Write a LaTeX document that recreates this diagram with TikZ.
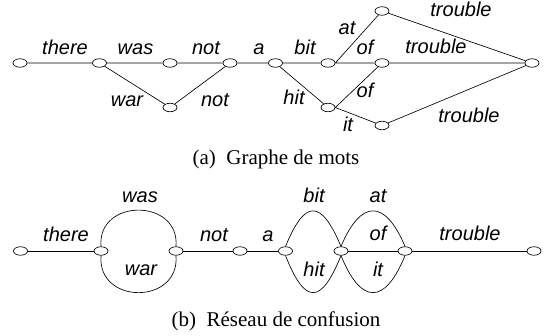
\documentclass[tikz,border=0pt]{standalone}
\usepackage{fontspec}
\setmainfont{Liberation Serif}
\setsansfont{Liberation Sans}
\usetikzlibrary{shapes.geometric}
\tikzset{
  st/.style={ellipse,draw,line width=0.65pt,minimum width=14pt,minimum height=8.5pt,inner sep=0pt},
  lb/.style={font=\sffamily\itshape\fontsize{20}{24}\selectfont,anchor=base,inner sep=0pt},
  captxt/.style={font=\rmfamily\fontsize{21}{25}\selectfont,anchor=base,inner sep=0pt},
  ln/.style={line width=0.65pt}
}
\begin{document}
\begin{tikzpicture}[x=1pt,y=-1pt]
\useasboundingbox (0,0) rectangle (546,336);
% ---------- (a) word graph
\node[st] (a0) at (20,63) {};
\node[st] (a1) at (99.5,63) {};
\node[st] (a2) at (170,63) {};
\node[st] (a3) at (230,63) {};
\node[st] (aw) at (170,107.5) {};
\node[st] (a4) at (275.5,63) {};
\node[st] (ab) at (328,63) {};
\node[st] (ah) at (328,107.5) {};
\node[st] (aat) at (382,11) {};
\node[st] (aof) at (382,63) {};
\node[st] (ait) at (382,125.5) {};
\node[st] (af) at (532,63) {};
\draw[ln] (a0) -- (a1) (a1) -- (a2) (a2) -- (a3) (a1) -- (aw) (aw) -- (a3) (a3) -- (a4)
  (a4) -- (ab) (a4) -- (ah) (ab.east) -- (aat) (ab) -- (aof) (ah.east) -- (aof) (ah.east) -- (ait)
  (aat) -- (af) (aof) -- (af) (ait) -- (af);
\node[lb] (l1) at (65,55) {there};
\node[lb] (l2) at (135.5,55) {was};
\node[lb] (l3) at (206,55) {not};
\node[lb] (l4) at (259,55) {a};
\node[lb] (l5) at (127,107) {war};
\node[lb] (l6) at (215,107) {not};
\node[lb] (l7) at (305,55) {bit};
\node[lb] (l8) at (347,35) {at};
\node[lb] (l9) at (365,55) {of};
\node[lb] (l10) at (461,17) {trouble};
\node[lb] (l11) at (436,54) {trouble};
\node[lb] (l12) at (294,105) {hit};
\node[lb] (l13) at (365,98) {of};
\node[lb] (l14) at (348,132) {it};
\node[lb] (l15) at (469,123) {trouble};
\node[captxt] (ca) at (276,165) {(a)\ \ Graphe de mots};
% ---------- (b) confusion network
\node[st] (b0) at (20.5,251) {};
\node[st] (b1) at (101,251) {};
\node[st] (b2) at (176,251) {};
\node[st] (b3) at (240,251) {};
\node[st] (b4) at (285.5,251) {};
\node[st] (b5) at (341,251) {};
\node[st] (b6) at (405,251) {};
\node[st] (b7) at (534,251) {};
\draw[ln] (b0) -- (b1) (b2) -- (b3) (b3) -- (b4) (b5) -- (b6) (b6) -- (b7);
\draw[ln] (b1.north) .. controls (97,198) and (180,198) .. (b2.north);
\draw[ln] (b1.south) .. controls (97,305) and (180,305) .. (b2.south);
\draw[ln] (b4.north) .. controls (305,199) and (321,199) .. (b5.north);
\draw[ln] (b4.south) .. controls (305,305) and (321,305) .. (b5.south);
\draw[ln] (b5.north) .. controls (361,199) and (385,199) .. (b6.north);
\draw[ln] (b5.south) .. controls (361,305) and (385,305) .. (b6.south);
\node[lb] (m1) at (66,242) {there};
\node[lb] (m2) at (140,203) {was};
\node[lb] (m3) at (141,276) {war};
\node[lb] (m4) at (214,242) {not};
\node[lb] (m5) at (268,242) {a};
\node[lb] (m6) at (314,203) {bit};
\node[lb] (m7) at (314,277) {hit};
\node[lb] (m8) at (378,203) {at};
\node[lb] (m9) at (378,241) {of};
\node[lb] (m10) at (378,277) {it};
\node[lb] (m11) at (470,241) {trouble};
\node[captxt] (cb) at (276,327) {(b)\ \ Réseau de confusion};
\end{tikzpicture}
\end{document}
